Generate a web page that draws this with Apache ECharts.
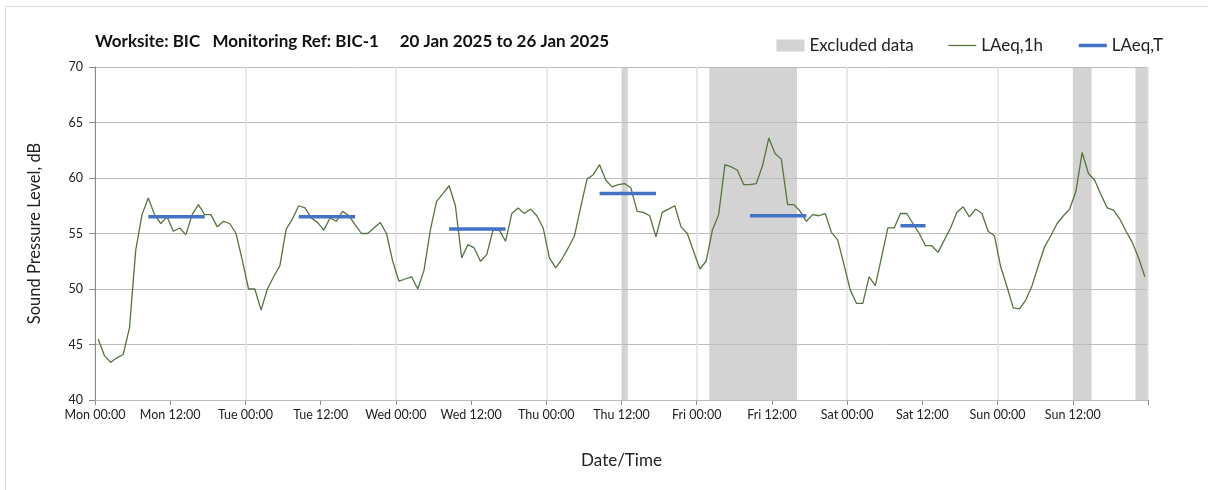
<!DOCTYPE html>
<html>
<head>
<meta charset="utf-8">
<title>BIC-1 noise monitoring</title>
<script src="https://cdn.jsdelivr.net/npm/echarts@6/dist/echarts.min.js"></script>
<style>
  html, body { margin: 0; padding: 0; background: #fff; }
  #chart { width: 1208px; height: 490px; }
</style>
</head>
<body>
<div id="chart"></div>
<script>
// hour tick labels, every 12 h from Mon 00:00
const tickLabels = [
  "Mon 00:00", "Mon 12:00", "Tue 00:00", "Tue 12:00", "Wed 00:00", "Wed 12:00",
  "Thu 00:00", "Thu 12:00", "Fri 00:00", "Fri 12:00", "Sat 00:00", "Sat 12:00",
  "Sun 00:00", "Sun 12:00",
];

// LAeq,1h, one value per hour (hour 0 = Mon 00:00)
const laeq1h = [
  45.5, 44.0, 43.4, 43.8, 44.1, 46.5, 53.5, 56.7, 58.2, 56.7, 55.9, 56.5,
  55.2, 55.5, 54.9, 56.7, 57.6, 56.7, 56.7, 55.6, 56.1, 55.9, 55.0, 52.6,
  50.0, 50.0, 48.1, 50.0, 51.1, 52.1, 55.4, 56.3, 57.5, 57.3, 56.4, 56.0,
  55.3, 56.4, 56.1, 57.0, 56.6, 55.8, 55.0, 55.0, 55.5, 56.0, 55.0, 52.5,
  50.7, 50.9, 51.1, 50.0, 51.7, 55.3, 57.9, 58.6, 59.3, 57.5, 52.8, 54.0,
  53.7, 52.5, 53.1, 55.3, 55.3, 54.3, 56.8, 57.3, 56.8, 57.2, 56.6, 55.5,
  52.8, 51.9, 52.7, 53.7, 54.8, 57.4, 59.9, 60.3, 61.2, 59.8, 59.2, 59.4,
  59.5, 59.1, 57.0, 56.9, 56.6, 54.7, 56.9, 57.2, 57.5, 55.6, 55.0, 53.4,
  51.8, 52.5, 55.3, 56.7, 61.2, 61.0, 60.7, 59.4, 59.4, 59.5, 61.1, 63.6,
  62.2, 61.7, 57.6, 57.6, 57.0, 56.1, 56.7, 56.6, 56.8, 55.1, 54.4, 52.2,
  49.9, 48.7, 48.7, 51.1, 50.3, 52.9, 55.5, 55.5, 56.8, 56.8, 55.9, 55.0,
  53.9, 53.9, 53.3, 54.4, 55.5, 56.9, 57.4, 56.5, 57.2, 56.8, 55.2, 54.8,
  52.0, 50.2, 48.3, 48.2, 49.0, 50.3, 52.1, 53.8, 54.8, 55.9, 56.6, 57.2,
  58.8, 62.3, 60.4, 59.8, 58.5, 57.3, 57.1, 56.3, 55.2, 54.2, 52.8, 51.1,
];

// LAeq,T assessment periods (hours from Mon 00:00)
const periodStart = [8, 32, 56, 80, 104, 128];
const periodEnd = [18, 42, 66, 90, 114, 133];
const periodLevel = [56.5, 56.5, 55.4, 58.6, 56.6, 55.7];

// excluded data windows (hours from Mon 00:00)
const excludedStart = [84, 98, 156, 166];
const excludedEnd = [85, 112, 159, 168];

const chart = echarts.init(document.getElementById("chart"));

const hourlyData = laeq1h.map((v, i) => [i + 0.5, v]);

const periodData = [];
periodStart.forEach((s, k) => {
  for (let h = s; h < periodEnd[k]; h++) {
    periodData.push([h + 0.5, periodLevel[k]]);
  }
  periodData.push([periodEnd[k], "-"]);
});

const excludedAreas = excludedStart.map((s, k) => [
  { xAxis: s },
  { xAxis: excludedEnd[k] },
]);

const font = "Lato, 'Open Sans', sans-serif";

const option = {
  animation: false,
  backgroundColor: "#fff",
  textStyle: { fontFamily: font },
  graphic: [
    {
      type: "rect",
      shape: { x: 5.5, y: 6.5, width: 1220, height: 500 },
      style: { fill: "none", stroke: "#d9d9d9", lineWidth: 1 },
      silent: true,
    },
  ],
  title: {
    text: "Worksite: BIC   Monitoring Ref: BIC-1     20 Jan 2025 to 26 Jan 2025",
    left: 90,
    top: 28,
    textStyle: {
      fontFamily: font,
      fontSize: 17,
      fontWeight: "bold",
      color: "#111",
    },
  },
  legend: {
    right: 40,
    top: 32,
    itemGap: 34,
    itemWidth: 28,
    itemHeight: 12,
    textStyle: { fontFamily: font, fontSize: 17, color: "#222" },
    data: [
      { name: "Excluded data", icon: "rect", itemStyle: { color: "#d3d3d3" } },
      { name: "LAeq,1h", itemStyle: { opacity: 0 }, lineStyle: { width: 1.3 } },
      { name: "LAeq,T", itemStyle: { opacity: 0 }, lineStyle: { width: 3.5 } },
    ],
  },
  grid: {
    left: 95,
    right: 60,
    top: 67,
    bottom: 90,
  },
  xAxis: [
    {
      type: "value",
      min: 0,
      max: 168,
      interval: 12,
      name: "Date/Time",
      nameLocation: "middle",
      nameGap: 52,
      nameTextStyle: { fontFamily: font, fontSize: 17, color: "#222" },
      axisLine: { lineStyle: { color: "#8c8c8c" } },
      axisTick: { length: 5, lineStyle: { color: "#8c8c8c" } },
      axisLabel: {
        fontSize: 12.5,
        color: "#222",
        margin: 8,
        formatter: (value) => tickLabels[value / 12] || "",
      },
      splitLine: { show: false },
    },
    {
      type: "value",
      min: 0,
      max: 168,
      interval: 24,
      position: "bottom",
      axisLine: { show: false },
      axisTick: { show: false },
      axisLabel: { show: false },
      splitLine: { lineStyle: { color: "#e2e2e2", width: 1.5 } },
      z: 3,
    },
  ],
  yAxis: {
    type: "value",
    min: 40,
    max: 70,
    interval: 5,
    name: "Sound Pressure Level, dB",
    nameLocation: "middle",
    nameGap: 52,
    nameTextStyle: { fontFamily: font, fontSize: 16.5, color: "#222" },
    axisLine: { show: true, lineStyle: { color: "#8c8c8c" } },
    axisTick: { show: true, length: 6, lineStyle: { color: "#8c8c8c" } },
    axisLabel: { fontSize: 12.5, color: "#222", margin: 12 },
    splitLine: { lineStyle: { color: "#bdbdbd" } },
    z: 3,
  },
  series: [
    {
      name: "Excluded data",
      type: "line",
      data: [],
      z: 1,
      itemStyle: { color: "#d3d3d3" },
      markArea: {
        silent: true,
        itemStyle: { color: "#d3d3d3" },
        data: excludedAreas,
      },
    },
    {
      name: "LAeq,1h",
      type: "line",
      data: hourlyData,
      symbol: "none",
      z: 4,
      color: "#56743f",
      lineStyle: { width: 1.3, color: "#56743f" },
    },
    {
      name: "LAeq,T",
      type: "line",
      data: periodData,
      symbol: "none",
      connectNulls: false,
      z: 5,
      color: "#4472c4",
      lineStyle: { width: 3.5, color: "#4472c4" },
    },
  ],
};

chart.setOption(option);
</script>
</body>
</html>
